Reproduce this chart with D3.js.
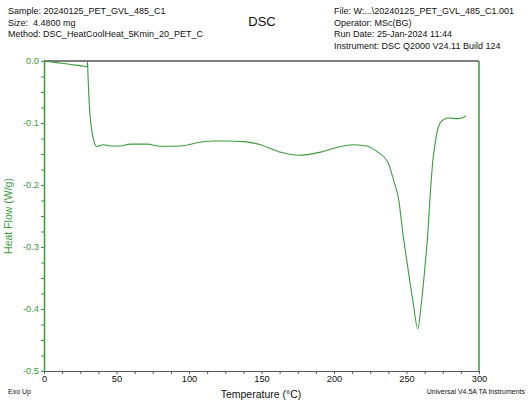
<!DOCTYPE html>
<html>
<head>
<meta charset="utf-8">
<script src="https://cdn.jsdelivr.net/npm/d3@7"></script>
<style>
  body { margin: 0; background: #fff; }
  text { font-family: "Liberation Sans", Arial, sans-serif; }
</style>
</head>
<body>
<div id="chart"></div>
<script>
// curve: temperature (°C) and heat flow (W/g)
var temps = [0, 5, 10, 15, 20, 25, 29.8, 30.0, 30.3, 30.8, 31.5, 32.3, 33.2, 34.2, 35.2, 36.5, 38, 40.8, 46, 52.5, 59.4, 71.2, 80.2, 94, 107.8, 116.8, 127, 137.6, 149.3, 163.1, 174.9, 181.8, 190.8, 202.5, 213.6, 223.3, 230.2, 237.1, 241.2, 244.7, 247.5, 250.9, 254.4, 257.8, 259.9, 262.7, 264.7, 266.1, 268.2, 269.6, 271.2, 273.2, 276, 278.6, 285.5, 291];
var heatFlow = [0, -0.0015, -0.003, -0.0045, -0.006, -0.0075, -0.009, 0.0, -0.02, -0.05, -0.08, -0.10, -0.115, -0.127, -0.135, -0.138, -0.137, -0.135, -0.137, -0.137, -0.134, -0.134, -0.1375, -0.137, -0.131, -0.129, -0.129, -0.130, -0.135, -0.147, -0.152, -0.151, -0.147, -0.139, -0.135, -0.1375, -0.147, -0.163, -0.193, -0.225, -0.278, -0.333, -0.387, -0.432, -0.398, -0.333, -0.278, -0.225, -0.160, -0.135, -0.113, -0.100, -0.094, -0.092, -0.093, -0.089];
var xLabels = [0, 50, 100, 150, 200, 250, 300];
var yLabels = [0.0, -0.1, -0.2, -0.3, -0.4, -0.5];
var headerLeft = ["Sample: 20240125_PET_GVL_485_C1", "Size:  4.4800 mg", "Method: DSC_HeatCoolHeat_5Kmin_20_PET_C"];
var headerRight = ["File: W:...\\20240125_PET_GVL_485_C1.001", "Operator: MSc(BG)", "Run Date: 25-Jan-2024 11:44", "Instrument: DSC Q2000 V24.11 Build 124"];

var data = temps.map(function(t, i) { return { t: t, h: heatFlow[i] }; });

var W = 528, H = 400,
    margin = { top: 61, right: 49, bottom: 29, left: 44 },
    width = W - margin.left - margin.right,
    height = H - margin.top - margin.bottom,
    green = "#3a9d3a", dark = "#555";

var svg = d3.select("#chart").append("svg")
    .attr("width", W)
    .attr("height", H);

// header text
svg.selectAll(".hl").data(headerLeft).enter().append("text")
    .attr("x", 8).attr("y", function(d, i) { return 14 + i * 11.7; })
    .style("font-size", "9px").attr("fill", "#111")
    .attr("xml:space", "preserve")
    .text(function(d) { return d; });
svg.selectAll(".hr").data(headerRight).enter().append("text")
    .attr("x", 334).attr("y", function(d, i) { return 14 + i * 11.7; })
    .style("font-size", "9px").attr("fill", "#111")
    .text(function(d) { return d; });
svg.append("text").attr("x", 262).attr("y", 26)
    .attr("text-anchor", "middle").style("font-size", "13px").attr("fill", "#111")
    .text("DSC");

var g = svg.append("g").attr("transform", "translate(" + margin.left + "," + margin.top + ")");

var x = d3.scaleLinear().domain([0, 300]).range([0, width]);
var y = d3.scaleLinear().domain([-0.5, 0]).range([height, 0]);

var xTicks = d3.range(0, 25).map(function(i) { return i * 12.5; });
var yTicks = d3.range(0, 21).map(function(i) { return Math.round(-i * 25) / 1000; });

// x axis
var xAxis = g.append("g").attr("transform", "translate(0," + height + ")")
    .call(d3.axisBottom(x).tickValues(xTicks).tickSize(3).tickSizeOuter(0)
      .tickFormat(function(d) { return xLabels.indexOf(d) >= 0 ? d : ""; }));
xAxis.select(".domain").attr("stroke", dark);
xAxis.selectAll(".tick line").attr("stroke", dark);
xAxis.selectAll("text").attr("fill", "#111").style("font-size", "9.3px").attr("dy", "0.9em").attr("y", 3);

// y axis
var yAxis = g.append("g")
    .call(d3.axisLeft(y).tickValues(yTicks).tickSize(3).tickSizeOuter(0)
      .tickFormat(function(d) {
        var hit = yLabels.some(function(v) { return Math.abs(v - d) < 1e-9; });
        return hit ? (d === 0 ? "0.0" : d.toFixed(1)) : "";
      }));
yAxis.select(".domain").attr("stroke", green).attr("stroke-width", 1.5);
yAxis.selectAll(".tick line").attr("stroke", green);
yAxis.selectAll("text").attr("fill", green).style("font-size", "9.3px").attr("x", -5);

// top and right frame
g.append("line").attr("x1", 0).attr("x2", width).attr("y1", 0).attr("y2", 0)
    .attr("stroke", dark).attr("stroke-width", 1.3);
g.append("line").attr("x1", width).attr("x2", width).attr("y1", 0).attr("y2", height)
    .attr("stroke", green).attr("stroke-width", 1.5);

// the curve
var line = d3.line()
    .x(function(d) { return x(d.t); })
    .y(function(d) { return y(d.h); })
    .curve(d3.curveMonotoneX);
g.append("path").datum(data)
    .attr("d", line)
    .attr("fill", "none")
    .attr("stroke", green)
    .attr("stroke-width", 1.1);

// axis titles
svg.append("text")
    .attr("transform", "translate(12," + (margin.top + height / 2) + ") rotate(-90)")
    .attr("text-anchor", "middle").attr("fill", green).style("font-size", "10.5px")
    .text("Heat Flow (W/g)");
svg.append("text").attr("x", 261).attr("y", 398)
    .attr("text-anchor", "middle").attr("fill", "#111").style("font-size", "10.5px")
    .text("Temperature (°C)");
svg.append("text").attr("x", 8).attr("y", 394)
    .attr("fill", "#111").style("font-size", "7px")
    .text("Exo Up");
svg.append("text").attr("x", 525).attr("y", 394)
    .attr("text-anchor", "end").attr("fill", "#111").style("font-size", "7px")
    .text("Universal V4.5A TA Instruments");
</script>
</body>
</html>
